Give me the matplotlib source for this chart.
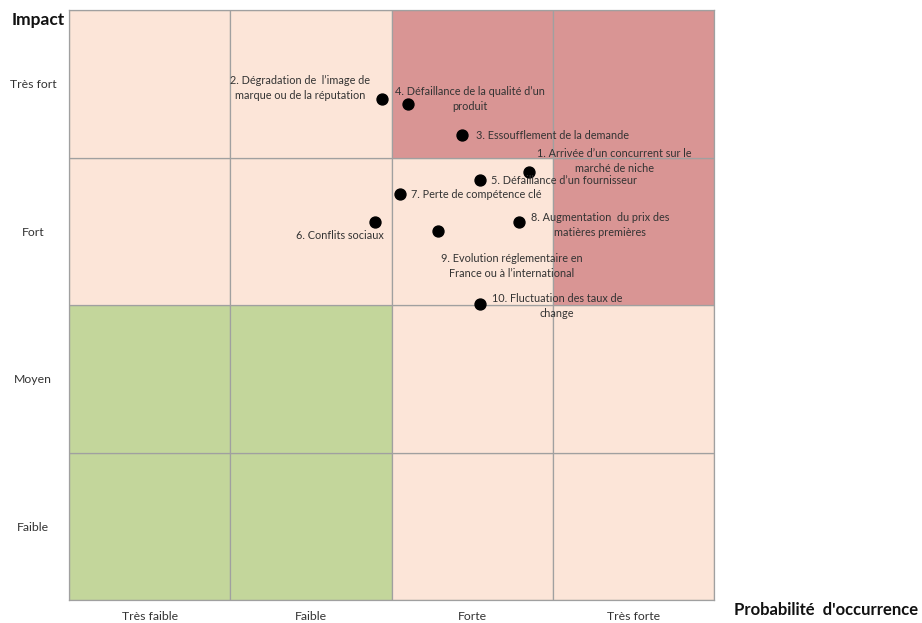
import matplotlib
matplotlib.use("Agg")
import matplotlib.pyplot as plt
from matplotlib.patches import Rectangle

plt.rcParams['font.family'] = ['Lato', 'DejaVu Sans']

x_categories = ["Très faible", "Faible", "Forte", "Très forte"]
y_categories = ["Faible", "Moyen", "Fort", "Très fort"]

# cell zone: 0 = low (green), 1 = medium (peach), 2 = high (red); rows bottom->top
zones = [
    [0, 0, 1, 1],
    [0, 0, 1, 1],
    [1, 1, 1, 2],
    [1, 1, 2, 2],
]
zone_colors = {0: "#C3D69B", 1: "#FCE5D8", 2: "#D99594"}

risk_labels = [
    "1. Arrivée d\u2019un concurrent sur le\nmarché de niche",
    "2. Dégradation de  l\u2019image de\nmarque ou de la réputation",
    "3. Essoufflement de la demande",
    "4. Défaillance de la qualité d\u2019un\nproduit",
    "5. Défaillance d\u2019un fournisseur",
    "6. Conflits sociaux",
    "7. Perte de compétence clé",
    "8. Augmentation  du prix des\nmatières premières",
    "9. Evolution réglementaire en\nFrance ou à l\u2019international",
    "10. Fluctuation des taux de\nchange",
]
probability = [2.85, 1.94, 2.44, 2.10, 2.55, 1.90, 2.05, 2.79, 2.29, 2.55]
impact = [2.90, 3.40, 3.15, 3.36, 2.85, 2.56, 2.75, 2.56, 2.50, 2.01]

# label anchor positions (data coords) and alignment
label_x = [3.380, 1.433, 2.524, 2.487, 2.617, 1.953, 2.121, 3.293, 2.747, 3.026]
label_y = [2.976, 3.471, 3.146, 3.397, 2.841, 2.468, 2.746, 2.542, 2.264, 1.993]
label_ha = ["center", "center", "left", "center", "left", "right", "left", "center", "center", "center"]

fig = plt.figure(figsize=(9.22, 6.23), dpi=100)
ax = fig.add_axes([69/922, 23/623, 645/922, 590/623])

for r in range(4):
    for c in range(4):
        ax.add_patch(Rectangle((c, r), 1, 1, facecolor=zone_colors[zones[r][c]],
                               edgecolor="#A0A0A0", linewidth=0.9, zorder=1))

ax.scatter(probability, impact, s=62, color="black", zorder=3)
for lx, ly, lab, ha in zip(label_x, label_y, risk_labels, label_ha):
    ax.text(lx, ly, lab, ha=ha, va="center", fontsize=7.8, color="#333333",
            multialignment="center", zorder=4, linespacing=1.35)

ax.set_xlim(0, 4)
ax.set_ylim(0, 4)
ax.set_xticks([i + 0.5 for i in range(4)])
ax.set_xticklabels(x_categories, fontsize=8.8, color="#333333")
ax.set_yticks([i + 0.5 for i in range(4)])
ax.set_yticklabels(y_categories, fontsize=8.8, color="#333333", ha="center")
ax.tick_params(length=0)
ax.tick_params(axis="x", pad=8)
ax.tick_params(axis="y", pad=26)
for s in ax.spines.values():
    s.set_color("#A0A0A0")
    s.set_linewidth(0.9)

fig.text(12/922, 1 - 20/623, "Impact", fontsize=12.5, fontweight="bold",
         ha="left", va="center", color="#111111")
fig.text(918/922, 1 - 610/623, "Probabilité  d'occurrence", fontsize=12,
         fontweight="bold", ha="right", va="center", color="#111111")

fig.savefig("out.png", dpi=100)
